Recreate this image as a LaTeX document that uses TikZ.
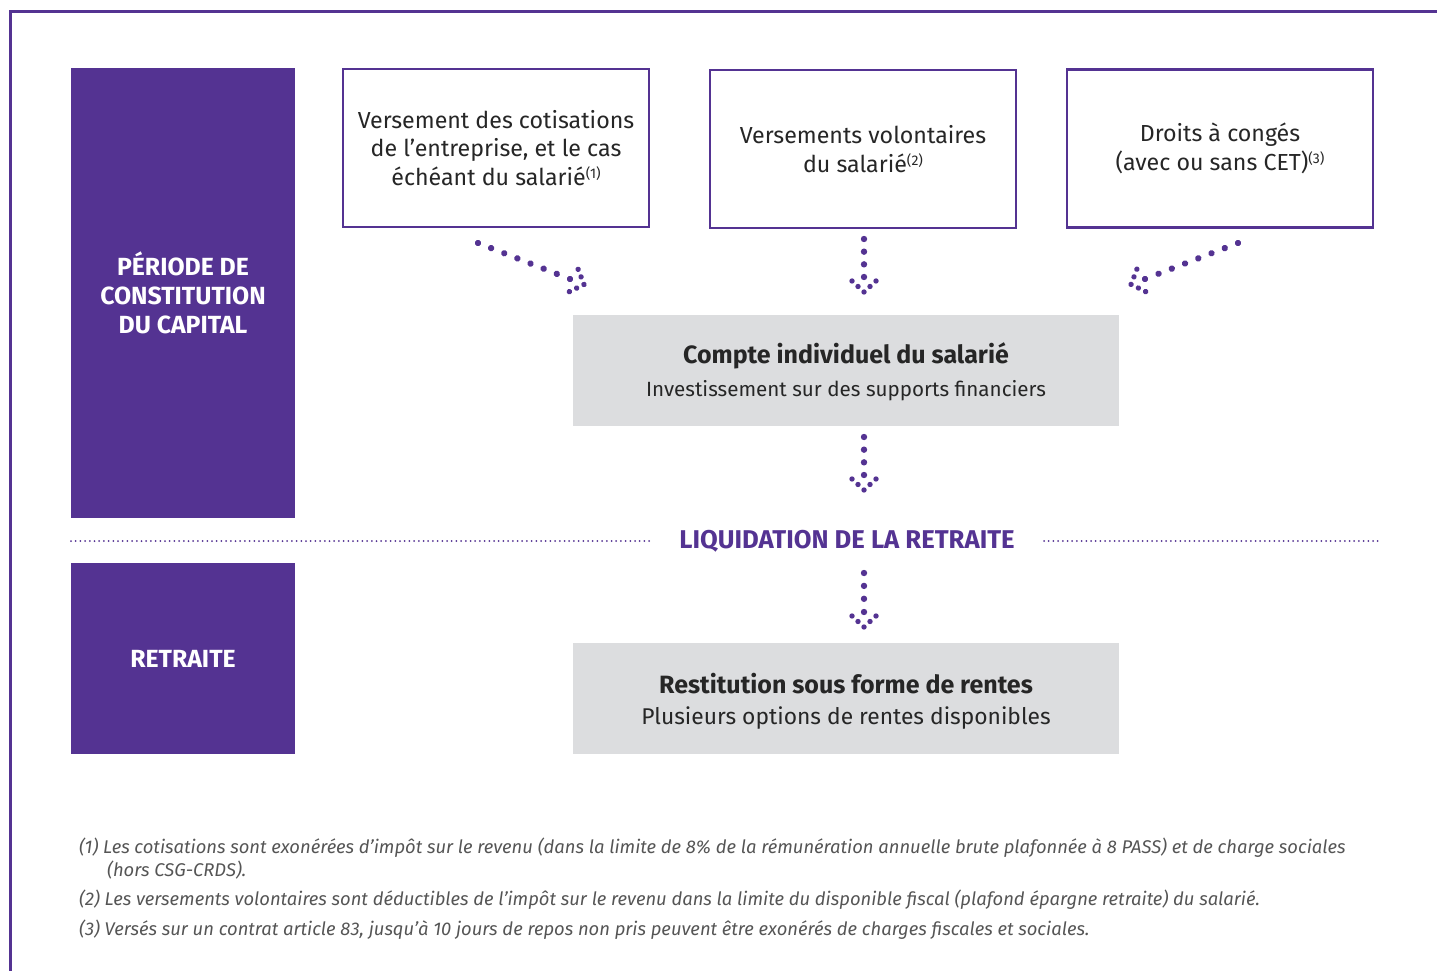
\documentclass[tikz,border=0pt]{standalone}
\usepackage{fontspec}
\setmainfont{Fira Sans}
\usetikzlibrary{decorations.markings}
\definecolor{purp}{RGB}{84,51,146}
\definecolor{greyfill}{RGB}{220,221,223}
\definecolor{txt}{RGB}{38,38,38}
\definecolor{note}{RGB}{85,85,85}
\newcommand{\supnote}[1]{\raisebox{7pt}{\fontsize{14}{14}\selectfont(#1)}}
\begin{document}
\begin{tikzpicture}[x=1pt,y=-1pt,
  sidebox/.style={fill=purp, draw=none, minimum width=224pt, text=white,
    font=\fontsize{24.8}{29}\selectfont\bfseries, align=center, inner sep=0pt},
  topbox/.style={draw=purp, line width=2.5pt, fill=white, minimum width=306pt,
    minimum height=158pt, text=txt, font=\fontsize{23.2}{28.5}\selectfont,
    align=center, inner sep=0pt},
  greybox/.style={fill=greyfill, draw=none, minimum width=546pt, minimum height=111pt, inner sep=0pt},
  titletxt/.style={text=txt, font=\fontsize{25}{28}\selectfont\bfseries, inner sep=0pt},
  subtxt/.style={text=txt, font=\fontsize{20.6}{24}\selectfont, inner sep=0pt},
  notetxt/.style={text=note, font=\fontsize{18.4}{21}\selectfont\itshape, anchor=west, inner sep=0pt},
  dotline/.style={draw=purp, line width=2pt, line cap=round, dash pattern=on 0pt off 4.7pt},
  dotarrow/.style={postaction={decorate}, decoration={markings,
    mark=between positions 0 and -16pt step #1 with {\fill[purp] (0,0) circle (3.2pt);},
    mark=at position 0.9999 with {\fill[purp] (-15,0) circle (3.2pt) (0,0) circle (2.7pt)
       (-5.5,6) circle (2.7pt) (-5.5,-6) circle (2.7pt) (-11,12) circle (2.7pt) (-11,-12) circle (2.7pt);}}},
  dotarrow/.default=12.67pt
]
\useasboundingbox (0,0) rectangle (1437,971);
% frame
\draw[purp, line width=3pt] (10,975) -- (10,12) -- (1440,12);

% side boxes
\node[sidebox, minimum height=450pt] (periode) at (183,293) {PÉRIODE DE\\CONSTITUTION\\DU CAPITAL};
\node[sidebox, minimum height=191pt] (retraite) at (183,658.5) {RETRAITE};

% top boxes
\node[topbox] (boxA) at (496,148) {Versement des cotisations\\de l’entreprise, et le cas\\échéant du salarié\supnote{1}};
\node[topbox] (boxB) at (863,149) {Versements volontaires\\du salarié\supnote{2}};
\node[topbox] (boxC) at (1220,148.5) {Droits à congés\\(avec ou sans CET)\supnote{3}};

% grey boxes
\node[greybox] (compte) at (846,370.5) {};
\node[titletxt] (compteT) at (846,355.5) {Compte individuel du salarié};
\node[subtxt] (compteS) at (846,391) {Investissement sur des supports financiers};

\node[greybox] (rest) at (846,698.5) {};
\node[titletxt] (restT) at (846,683.5) {Restitution sous forme de rentes};
\node[subtxt, font=\fontsize{22.8}{26}\selectfont] (restS) at (846,718) {Plusieurs options de rentes disponibles};

% liquidation
\node[text=purp, font=\fontsize{25.7}{29}\selectfont\bfseries, inner sep=0pt] (liq) at (847,541) {LIQUIDATION DE LA RETRAITE};
\coordinate (dlA1) at (71,541);
\coordinate (dlA2) at (651,541);
\coordinate (dlB1) at (1044,541);
\coordinate (dlB2) at (1378,541);
\draw[dotline] (dlA1) -- (dlA2);
\draw[dotline] (dlB1) -- (dlB2);

% dotted arrows
\coordinate (aLs) at (478,243);
\coordinate (aLe) at (584,284.5);
\coordinate (aRs) at (1238,243);
\coordinate (aRe) at (1131,284.4);
\coordinate (aMs) at (864,239);
\coordinate (aMe) at (864,292);
\coordinate (bMs) at (864,437);
\coordinate (bMe) at (864,490);
\coordinate (cMs) at (864,573);
\coordinate (cMe) at (864,627);
\path[dotarrow=14.1pt] (aLs) -- (aLe);
\path[dotarrow=14.2pt] (aRs) -- (aRe);
\path[dotarrow] (aMs) -- (aMe);
\path[dotarrow] (bMs) -- (bMe);
\path[dotarrow=12.9pt] (cMs) -- (cMe);

% notes
\node[notetxt] (n1) at (79,848) {(1) Les cotisations sont exonérées d’impôt sur le revenu (dans la limite de 8\% de la rémunération annuelle brute plafonnée à 8 PASS) et de charge sociales};
\node[notetxt] (n1b) at (107,870) {(hors CSG-CRDS).};
\node[notetxt] (n2) at (79,900) {(2) Les versements volontaires sont déductibles de l’impôt sur le revenu dans la limite du disponible fiscal (plafond épargne retraite) du salarié.};
\node[notetxt] (n3) at (79,930) {(3) Versés sur un contrat article 83, jusqu’à 10 jours de repos non pris peuvent être exonérés de charges fiscales et sociales.};
\end{tikzpicture}
\end{document}
